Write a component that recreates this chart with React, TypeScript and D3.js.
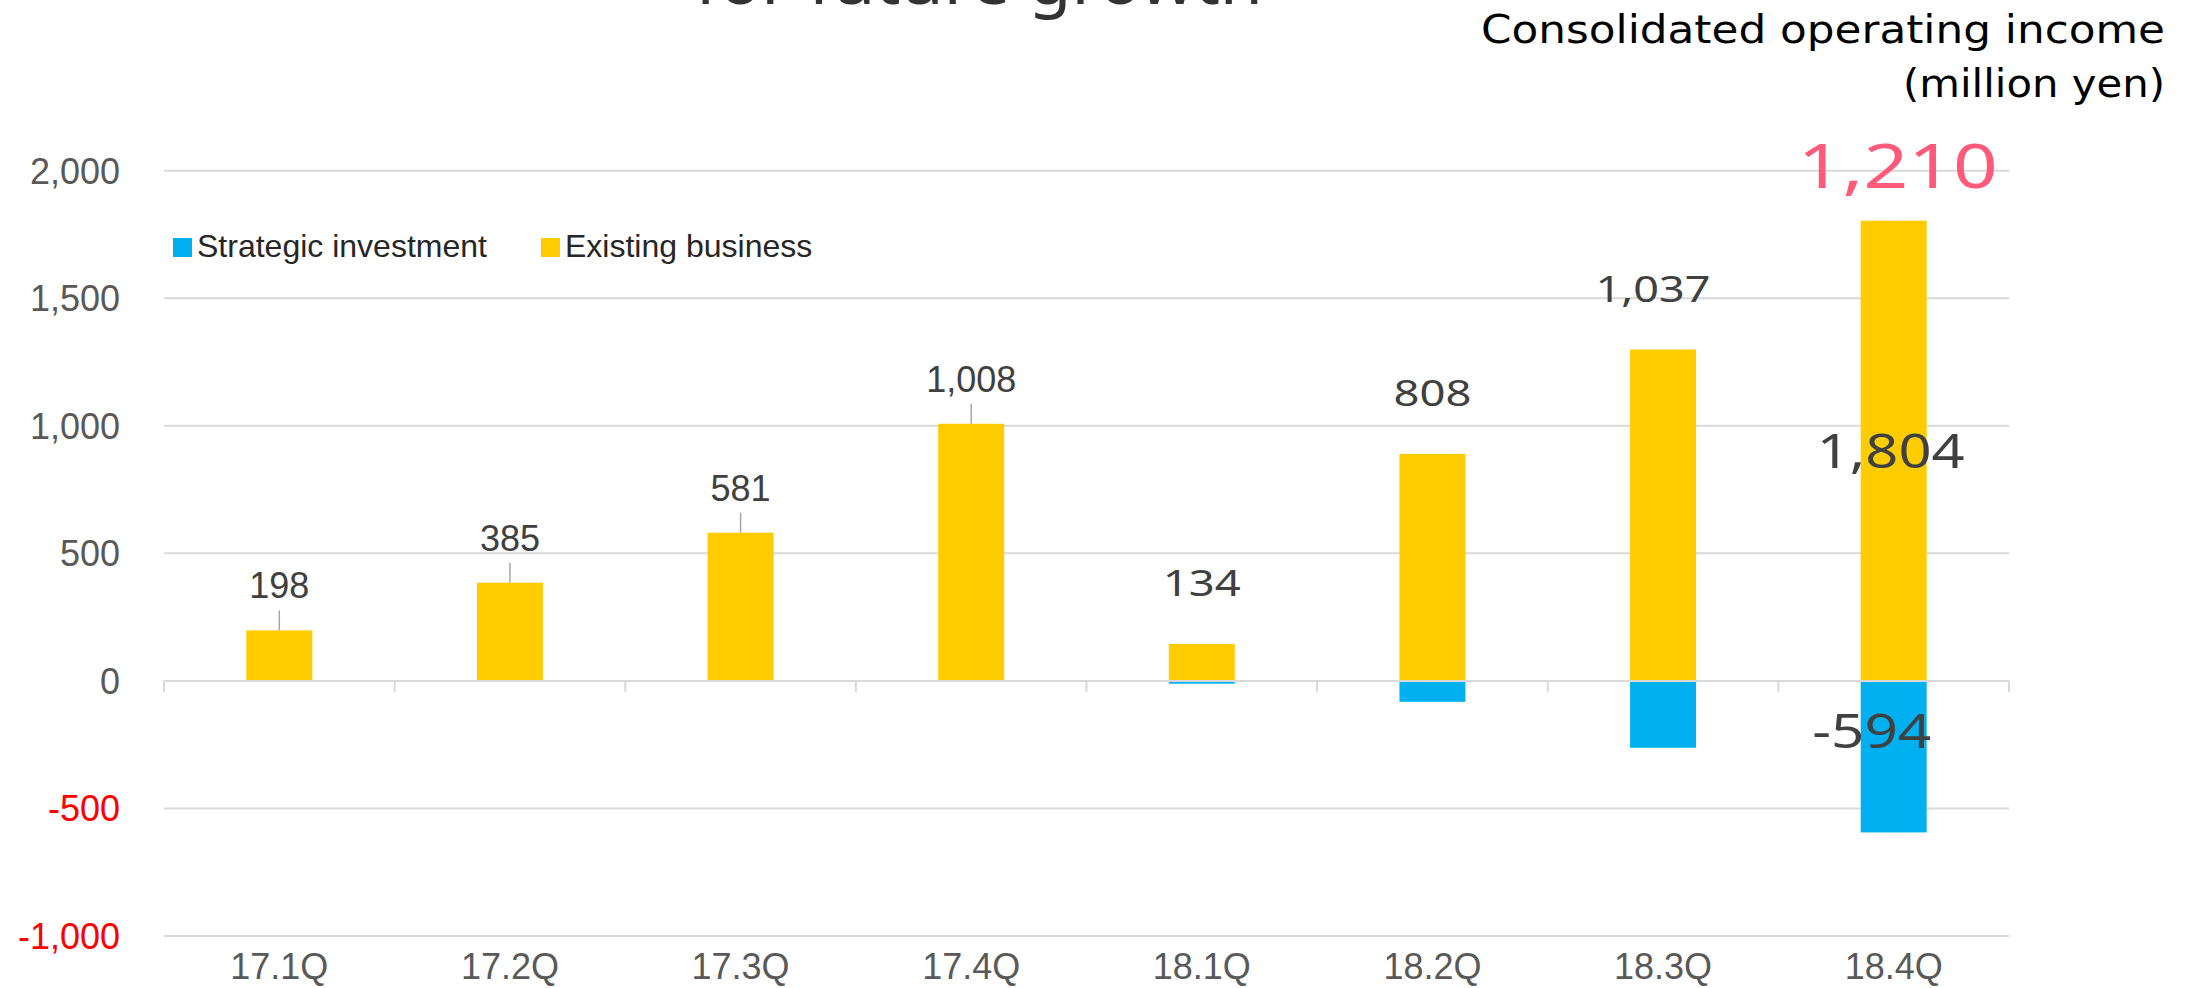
import React from 'react';
import * as d3 from 'd3';

const categories = ['17.1Q', '17.2Q', '17.3Q', '17.4Q', '18.1Q', '18.2Q', '18.3Q', '18.4Q'];
const existingBusiness = [198, 385, 581, 1008, 145, 890, 1299, 1804];
const strategicInvestment = [0, 0, 0, 0, -11, -82, -262, -594];
const yTicks = [-1000, -500, 0, 500, 1000, 1500, 2000];
const seriesNames = ['Strategic investment', 'Existing business'];

const W = 2197;
const H = 988;
const BLUE = '#00B0F0';
const YELLOW = '#FFCC00';
const GRID = '#D9D9D9';
const PINK = '#FF5A7A';
const ARIAL = '"Liberation Sans", Arial, sans-serif';
const GOTHIC = '"Noto Sans", "DejaVu Sans", sans-serif';

const fmt = (v: number) => d3.format(',')(v).replace('\u2212', '-');
// width helper for stretched "gothic" labels: digits wide, comma/hyphen narrow
const gLen = (s: string, digit: number, comma: number, dash: number) =>
  s.split('').reduce((a, ch) => a + (ch === ',' ? comma : ch === '-' ? dash : digit), 0);

export default function App() {
  const x = d3.scaleBand<string>().domain(categories).range([164, 2009]).padding(0);
  const y = d3.scaleLinear().domain([-1000, 2000]).range([936, 170.7]);
  const bw = x.bandwidth() * 0.286;
  const cx = (c: string) => (x(c) as number) + x.bandwidth() / 2;

  const totals = categories.map((_, i) => existingBusiness[i] + strategicInvestment[i]);
  const boundaries = categories.map((c) => x(c) as number).concat([x.range()[1]]);

  return (
    <svg width={W} height={H} style={{ position: 'absolute', left: 0, top: 0, background: '#fff' }}>
      <rect x={0} y={0} width={W} height={H} fill="#fff" />
      {/* clipped title */}
      <text x={695} y={4} fontFamily={GOTHIC} fontSize={68} fill="#333" textLength={568} lengthAdjust="spacingAndGlyphs">
        for future growth
      </text>
      <text x={2165} y={43} textAnchor="end" fontFamily='"DejaVu Sans", Verdana, sans-serif' fontSize={39} fill="#000" textLength={684} lengthAdjust="spacingAndGlyphs">
        Consolidated operating income
      </text>
      <text x={2165} y={97} textAnchor="end" fontFamily='"DejaVu Sans", Verdana, sans-serif' fontSize={39} fill="#000" textLength={262} lengthAdjust="spacingAndGlyphs">
        (million yen)
      </text>

      {/* gridlines */}
      {yTicks.map((t) => (
        <line key={t} x1={x.range()[0]} x2={x.range()[1]} y1={y(t)} y2={y(t)} stroke={GRID} strokeWidth={2} />
      ))}
      {/* y labels */}
      {yTicks.map((t) => (
        <text key={'l' + t} x={120} y={y(t) + 13} textAnchor="end" fontFamily={ARIAL} fontSize={36} fill={t < 0 ? '#FF0000' : '#595959'}>
          {fmt(t)}
        </text>
      ))}
      {/* x tick marks */}
      {boundaries.map((b, i) => (
        <line key={'t' + i} x1={b} x2={b} y1={y(0)} y2={y(0) + 11} stroke={GRID} strokeWidth={2} />
      ))}

      {/* bars */}
      {categories.map((c, i) => (
        <g key={c}>
          <rect x={cx(c) - bw / 2} width={bw} y={y(existingBusiness[i])} height={y(0) - y(existingBusiness[i])} fill={YELLOW} />
          {strategicInvestment[i] < 0 && (
            <rect x={cx(c) - bw / 2} width={bw} y={y(0)} height={y(strategicInvestment[i]) - y(0)} fill={BLUE} />
          )}
        </g>
      ))}
      {/* axis baseline */}
      <line x1={x.range()[0]} x2={x.range()[1]} y1={y(0)} y2={y(0)} stroke={GRID} strokeWidth={2} />

      {/* category labels */}
      {categories.map((c) => (
        <text key={'c' + c} x={cx(c)} y={979} textAnchor="middle" fontFamily={ARIAL} fontSize={36} fill="#595959">
          {c}
        </text>
      ))}

      {/* 2017 labels with leader lines */}
      {categories.slice(0, 4).map((c, i) => {
        const top = y(totals[i]);
        return (
          <g key={'d' + c}>
            <line x1={cx(c)} x2={cx(c)} y1={top - 20} y2={top} stroke="#A6A6A6" strokeWidth={1.5} />
            <text x={cx(c)} y={top - 32} textAnchor="middle" fontFamily={ARIAL} fontSize={36} fill="#404040">
              {fmt(totals[i])}
            </text>
          </g>
        );
      })}

      {/* 2018 Q1-Q3 totals */}
      {categories.slice(4, 7).map((c, j) => {
        const i = j + 4;
        const s = fmt(totals[i]);
        return (
          <text key={'e' + c} x={cx(c) - (i === 6 ? 10 : 0)} y={y(existingBusiness[i]) - 48} textAnchor="middle" fontFamily={GOTHIC} fontSize={37} fill="#404040" textLength={gLen(s, 26, 11, 14)} lengthAdjust="spacingAndGlyphs">
            {s}
          </text>
        );
      })}

      {/* 18.4Q labels */}
      {(() => {
        const c = categories[7];
        const e = existingBusiness[7];
        const s = strategicInvestment[7];
        const t = totals[7];
        return (
          <g>
            <text x={cx(c) - 3} y={(y(e) + y(0)) / 2 + 17} textAnchor="middle" fontFamily={GOTHIC} fontSize={48} fill="#404040" textLength={148} lengthAdjust="spacingAndGlyphs">
              {fmt(e)}
            </text>
            <text x={cx(c) - 22} y={(y(s) + y(0)) / 2 - 9} textAnchor="middle" fontFamily={GOTHIC} fontSize={48} fill="#404040" textLength={119} lengthAdjust="spacingAndGlyphs">
              {fmt(s)}
            </text>
            <text x={cx(c) + 4} y={y(e) - 33} textAnchor="middle" fontFamily={GOTHIC} fontSize={62} fill={PINK} textLength={200} lengthAdjust="spacingAndGlyphs">
              {fmt(t)}
            </text>
          </g>
        );
      })()}

      {/* legend */}
      <rect x={173} y={238} width={19} height={19} fill={BLUE} />
      <text x={197} y={257} fontFamily={ARIAL} fontSize={32} fill="#262626">{seriesNames[0]}</text>
      <rect x={541} y={238} width={19} height={19} fill={YELLOW} />
      <text x={565} y={257} fontFamily={ARIAL} fontSize={32} fill="#262626">{seriesNames[1]}</text>
    </svg>
  );
}
